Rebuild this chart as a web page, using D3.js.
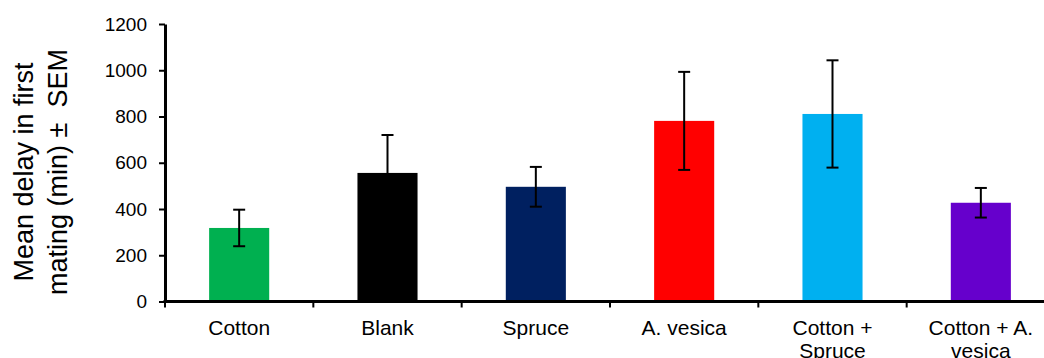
<!DOCTYPE html>
<html>
<head>
<meta charset="utf-8">
<script src="https://cdn.jsdelivr.net/npm/d3@7"></script>
<style>
  body { margin: 0; background: #fff; }
  text { font-family: "Liberation Sans", Arial, sans-serif; fill: #000; }
</style>
</head>
<body>
<div id="chart"></div>
<script>
// data
const categories = [
    ['Cotton'],
    ['Blank'],
    ['Spruce'],
    ['A. vesica'],
    ['Cotton +', 'Spruce'],
    ['Cotton + A.', 'vesica']
];
const means = [318, 556, 496, 781, 811, 427];
const sems = [79, 164, 86, 212, 232, 64];
const colors = ['#00B050', '#000000', '#002060', '#FF0000', '#00B0F0', '#6600CC'];
const yTicks = [0, 200, 400, 600, 800, 1000, 1200];

const width = 1044, height = 358;
const plot = { left: 165, right: 1055, top: 24, bottom: 301.5 };

const svg = d3.select('#chart').append('svg')
    .attr('width', width)
    .attr('height', height);

const idx = d3.range(categories.length);

// band scale over the categories; ticks sit on the band edges
const x = d3.scaleBand().domain(idx).range([plot.left, plot.right]).padding(0);
const barW = x.bandwidth() * 0.405;

const y = d3.scaleLinear().domain([0, 1200]).range([plot.bottom, plot.top]);

// bars
svg.selectAll('rect.bar')
    .data(idx)
    .enter()
    .append('rect')
    .attr('class', 'bar')
    .attr('x', i => x(i) + (x.bandwidth() - barW) / 2)
    .attr('width', barW)
    .attr('y', i => y(means[i]))
    .attr('height', i => y(0) - y(means[i]))
    .attr('fill', i => colors[i]);

// error bars
const capW = 12;
const err = svg.selectAll('g.err')
    .data(idx)
    .enter()
    .append('g')
    .attr('class', 'err')
    .attr('stroke', '#000')
    .attr('stroke-width', 2);

err.append('line')
    .attr('x1', i => x(i) + x.bandwidth() / 2)
    .attr('x2', i => x(i) + x.bandwidth() / 2)
    .attr('y1', i => y(means[i] - sems[i]))
    .attr('y2', i => y(means[i] + sems[i]));

err.append('line')
    .attr('x1', i => x(i) + x.bandwidth() / 2 - capW / 2)
    .attr('x2', i => x(i) + x.bandwidth() / 2 + capW / 2)
    .attr('y1', i => y(means[i] + sems[i]))
    .attr('y2', i => y(means[i] + sems[i]));

err.append('line')
    .attr('x1', i => x(i) + x.bandwidth() / 2 - capW / 2)
    .attr('x2', i => x(i) + x.bandwidth() / 2 + capW / 2)
    .attr('y1', i => y(means[i] - sems[i]))
    .attr('y2', i => y(means[i] - sems[i]));

// y axis
const yAxis = svg.append('g')
    .attr('transform', 'translate(' + plot.left + ',0)')
    .call(d3.axisLeft(y).tickValues(yTicks).tickFormat(d3.format('d'))
        .tickSize(6).tickPadding(12).tickSizeOuter(0));
yAxis.select('.domain').attr('stroke-width', 3);
yAxis.selectAll('.tick line').attr('stroke-width', 2);
yAxis.selectAll('.tick text')
    .style('font-size', '19px')
    .style('font-family', '"Liberation Sans", Arial, sans-serif');

// x axis line + boundary ticks
svg.append('line')
    .attr('x1', plot.left - 1.5).attr('x2', plot.right)
    .attr('y1', plot.bottom).attr('y2', plot.bottom)
    .attr('stroke', '#000').attr('stroke-width', 3);

svg.selectAll('line.xtick')
    .data(d3.range(categories.length + 1))
    .enter()
    .append('line')
    .attr('class', 'xtick')
    .attr('x1', i => plot.left + i * x.step())
    .attr('x2', i => plot.left + i * x.step())
    .attr('y1', plot.bottom)
    .attr('y2', plot.bottom + 6)
    .attr('stroke', '#000')
    .attr('stroke-width', 2);

// x labels (second lines run off the bottom edge, as in the original)
const labels = svg.selectAll('text.xlab')
    .data(idx)
    .enter()
    .append('text')
    .attr('class', 'xlab')
    .attr('text-anchor', 'middle')
    .style('font-size', '21px')
    .attr('x', i => x(i) + x.bandwidth() / 2)
    .attr('y', 334.5);

labels.selectAll('tspan')
    .data(i => categories[i].map((t, k) => ({ t: t, k: k, i: i })))
    .enter()
    .append('tspan')
    .attr('x', d => x(d.i) + x.bandwidth() / 2)
    .attr('dy', d => d.k === 0 ? 0 : 23)
    .text(d => d.t);

// y title
const titleLines = ['Mean delay in first', 'mating (min) \u00b1  SEM'];
svg.selectAll('text.ytitle')
    .data(titleLines)
    .enter()
    .append('text')
    .attr('class', 'ytitle')
    .attr('text-anchor', 'middle')
    .style('font-size', '27px')
    .style('white-space', 'pre')
    .attr('transform', (d, k) => 'translate(' + (33 + k * 34) + ',172) rotate(-90)')
    .text(d => d);
</script>
</body>
</html>
